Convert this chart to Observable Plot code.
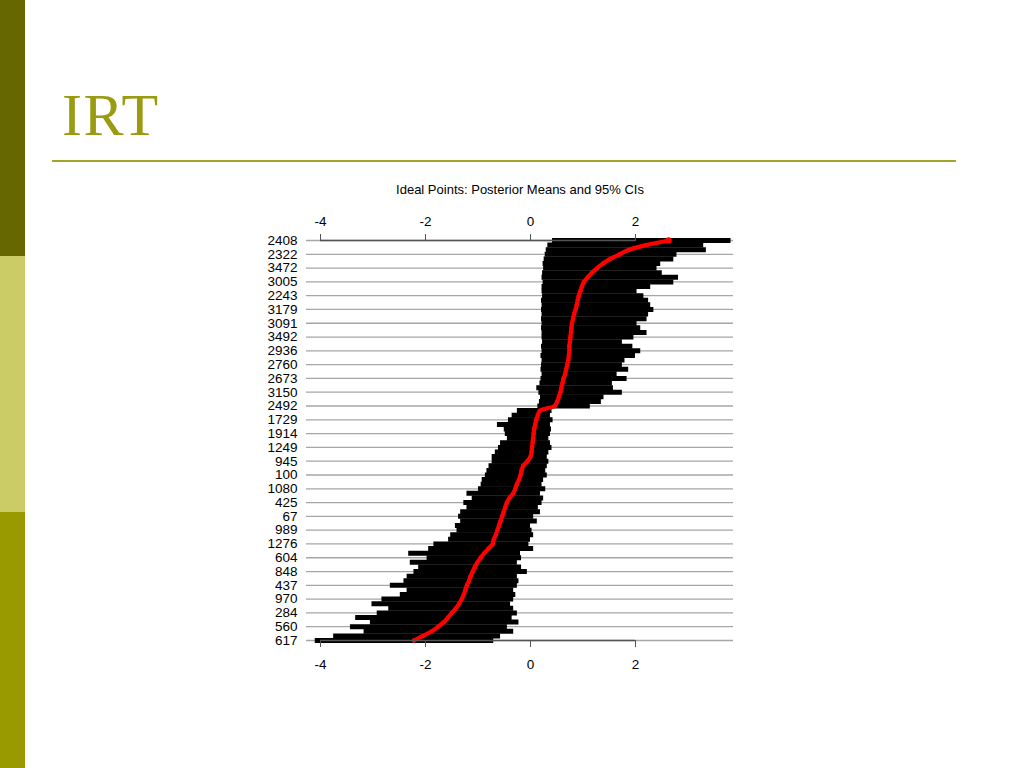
<!DOCTYPE html>
<html>
<head>
<meta charset="utf-8">
<script src="https://cdn.jsdelivr.net/npm/d3@7"></script>
<script src="https://cdn.jsdelivr.net/npm/@observablehq/plot@0.6"></script>
<style>
  html, body { margin: 0; padding: 0; background: #fff; }
  #slide { position: relative; width: 1024px; height: 768px; overflow: hidden; background: #fff; }
  .bar { position: absolute; left: 0; width: 25px; }
  #title { position: absolute; left: 62px; top: 80px; font-family: "Liberation Serif", "Times New Roman", serif; font-size: 60px; line-height: 70px; letter-spacing: 1.5px; color: #9b9b12; }
  #rule { position: absolute; left: 52px; top: 160px; width: 904px; height: 2px; background: #a4a42a; }
  #ctitle { position: absolute; left: 270px; width: 500px; top: 182px; text-align: center; font-family: "Liberation Sans", Arial, sans-serif; font-size: 13px; line-height: 16px; color: #000; }
  #chart { position: absolute; left: 250px; top: 170px; }
</style>
</head>
<body>
<div id="slide">
  <div class="bar" style="top:0;height:256px;background:#676700"></div>
  <div class="bar" style="top:256px;height:256px;background:#cccc66"></div>
  <div class="bar" style="top:512px;height:256px;background:#999900"></div>
  <div id="title">IRT</div>
  <div id="rule"></div>
  <div id="ctitle">Ideal Points: Posterior Means and 95% CIs</div>
  <div id="chart"></div>
</div>
<script>
// Labelled legislators (every third row is labelled, top to bottom)
const labels = ["2408","2322","3472","3005","2243","3179","3091","3492","2936","2760","2673","3150","2492","1729","1914","1249","945","100","1080","425","67","989","1276","604","848","437","970","284","560","617"];

// Posterior means, top row first
const means = [2.63,2.20,1.88,1.70,1.52,1.38,1.27,1.17,1.09,1.02,0.98,0.95,0.92,0.90,0.88,0.86,0.83,0.81,0.79,0.78,0.77,0.76,0.75,0.74,0.74,0.73,0.72,0.70,0.68,0.66,0.63,0.61,0.59,0.57,0.54,0.51,0.46,
  0.18,0.14,0.11,0.09,0.07,0.06,0.05,0.04,0.03,0.02,0.00,-0.06,-0.14,-0.17,-0.19,-0.22,-0.26,-0.29,-0.33,-0.40,-0.45,-0.48,-0.51,-0.54,-0.57,-0.60,-0.63,
  -0.66,-0.70,-0.72,-0.80,-0.88,-0.95,-1.01,-1.06,-1.10,-1.14,-1.17,-1.21,-1.24,-1.27,-1.31,-1.36,-1.42,-1.50,-1.57,-1.65,-1.76,-1.88,-2.05,-2.22];

// Lower 95% bounds
const lower = [0.42,0.33,0.30,0.28,0.26,0.24,0.25,0.23,0.22,0.24,0.22,0.22,0.23,0.21,0.22,0.21,0.22,0.21,0.22,0.21,0.22,0.22,0.23,0.21,0.22,0.20,0.22,0.21,0.20,0.22,0.20,0.18,0.12,0.16,0.19,0.17,0.14,
  -0.25,-0.35,-0.42,-0.63,-0.50,-0.48,-0.44,-0.57,-0.61,-0.67,-0.73,-0.73,-0.79,-0.83,-0.86,-0.92,-0.94,-0.99,-1.21,-1.11,-1.27,-1.21,-1.33,-1.37,-1.33,-1.43,-1.40,
  -1.52,-1.56,-1.84,-1.94,-2.32,-1.97,-2.29,-2.13,-2.22,-2.35,-2.41,-2.67,-2.35,-2.48,-2.83,-3.02,-2.70,-2.92,-3.33,-3.05,-3.43,-3.17,-3.75,-4.10];

// Upper 95% bounds
const upper = [3.82,3.30,3.35,2.79,2.73,2.48,2.41,2.51,2.82,2.73,2.29,2.03,2.16,2.25,2.29,2.35,2.25,2.22,2.03,2.10,2.22,1.97,1.75,1.95,2.10,2.00,1.80,1.75,1.87,1.65,1.84,1.56,1.58,1.75,1.40,1.35,1.14,
  0.41,0.38,0.43,0.38,0.40,0.38,0.35,0.38,0.41,0.35,0.32,0.35,0.32,0.29,0.32,0.25,0.22,0.29,0.19,0.25,0.22,0.15,0.19,0.06,0.13,0.00,0.03,
  0.06,0.00,-0.03,0.06,-0.19,-0.17,-0.25,-0.17,-0.06,-0.25,-0.22,-0.25,-0.32,-0.28,-0.32,-0.38,-0.32,-0.25,-0.35,-0.22,-0.44,-0.32,-0.57,-0.70];

const xTicks = [-4, -2, 0, 2];

const rows = means.map((m, i) => ({r: i, mean: m, lo: lower[i], hi: upper[i]}));
const nRows = rows.length;
const step = (nRows - 1) / (labels.length - 1);
const labelRows = labels.map((_, i) => i * step);
const labelAt = new Map(labelRows.map((r, i) => [r, labels[i]]));
const fmtX = d => String(d); // plain hyphen-minus as in the original

const chart = Plot.plot({
  width: 500,
  height: 510,
  marginLeft: 56,
  marginRight: 17,
  marginTop: 70,
  marginBottom: 40,
  style: {fontFamily: "'Liberation Sans', Arial, sans-serif", fontSize: "13.5px", color: "#000", background: "transparent", overflow: "visible"},
  x: {domain: [-4.267, 3.867], label: null},
  y: {domain: [0, nRows - 1], reverse: true, label: null},
  marks: [
    Plot.ruleY(labelRows, {y: d => d, stroke: "#a6a6a6", strokeWidth: 1.3}),
    Plot.ruleY(rows, {y: "r", x1: "lo", x2: "hi", stroke: "#000", strokeWidth: 5}),
    Plot.line(rows, {x: "mean", y: "r", stroke: "#ff0000", strokeWidth: 4.2, curve: "monotone-y"}),
    Plot.dot(rows, {x: "mean", y: "r", r: 2.2, fill: "#ff0000"}),
    Plot.dot(rows.slice(0, 1), {x: "mean", y: "r", r: 3.2, fill: "#ff0000"}),
    Plot.ruleY([0], {x1: xTicks[0], x2: xTicks[xTicks.length - 1], stroke: "#555", strokeWidth: 1.3}),
    Plot.ruleY([nRows - 1], {x1: xTicks[0], x2: xTicks[xTicks.length - 1], stroke: "#555", strokeWidth: 1.3}),
    Plot.axisX({anchor: "top", ticks: xTicks, tickFormat: fmtX, tickSize: 7, tickPadding: 8, stroke: "#555", fill: "#000", label: null}),
    Plot.axisX({anchor: "bottom", ticks: xTicks, tickFormat: fmtX, tickSize: 7, tickPadding: 12, stroke: "#555", fill: "#000", label: null}),
    Plot.axisY({anchor: "left", ticks: labelRows, tickFormat: r => labelAt.get(r), tickSize: 0, tickPadding: 9, fill: "#000", label: null})
  ]
});
document.getElementById("chart").appendChild(chart);
</script>
</body>
</html>
